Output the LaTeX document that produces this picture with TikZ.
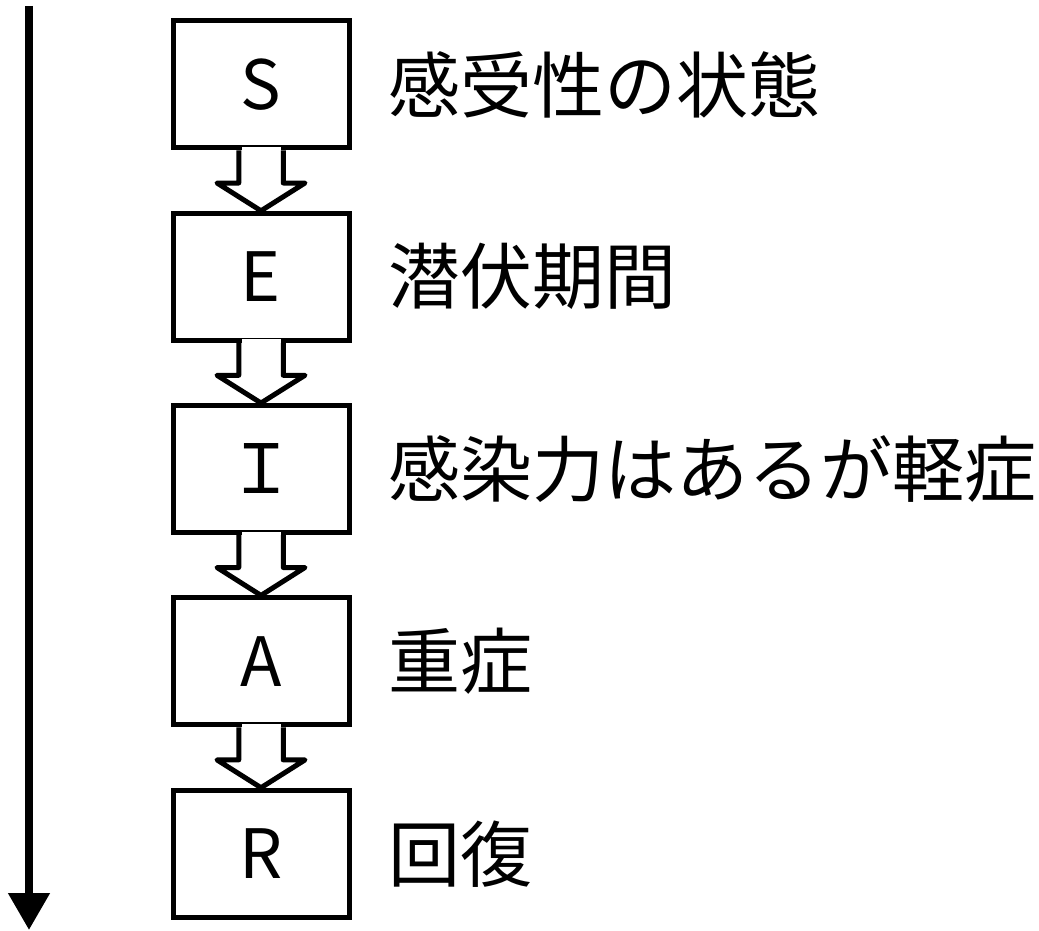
\documentclass[tikz,border=0pt]{standalone}
\usepackage{fontspec}
\newfontfamily\jp{Noto Sans CJK JP}
\usetikzlibrary{calc,arrows.meta}
\begin{document}
\begin{tikzpicture}[x=1pt,y=-1pt,
  box/.style={draw,line width=5pt,minimum width=176pt,minimum height=127pt,inner sep=0pt,
    font=\jp\fontsize{68}{80}\selectfont},
  lbl/.style={anchor=west,inner sep=0pt,font=\jp\fontsize{72}{86}\selectfont},
  blockarrow/.style={line width=5pt,line join=round},
  timeline/.style={line width=8pt,-{Triangle[length=37pt,width=40pt]}}]
\useasboundingbox (0,0) rectangle (1039,931);
% time axis
\coordinate (top) at (29,6);
\coordinate (bot) at (29,930);
\draw[timeline] (top) -- (bot);
% boxes
\node[box] (S) at (261,84.5)  {S};
\node[box] (E) at (261,276.8) {E};
\node[box] (I) at (261,469)   {Ｉ};
\node[box] (A) at (261,661.4) {A};
\node[box] (R) at (261,853.7) {R};
% labels
\node[lbl] (tS) at ($(S.east)+(37,0)$) {感受性の状態};
\node[lbl] (tE) at ($(E.east)+(37,0)$) {潜伏期間};
\node[lbl] (tI) at ($(I.east)+(37,0)$) {感染力はあるが軽症};
\node[lbl] (tA) at ($(A.east)+(37,0)$) {重症};
\node[lbl] (tR) at ($(R.east)+(37,0)$) {回復};
% block arrows
\foreach \a/\b in {S/E,E/I,I/A,A/R}{
  \fill[white] ($(\a.south)+(-19.5,-3.5)$) rectangle ($(\a.south)+(19.5,3.5)$);
  \draw[blockarrow] ($(\a.south)+(-22.25,0)$) -- ++(0,32.5) -- ++(-21.75,0)
     -- (\b.north) -- ($(\a.south)+(44,32.5)$) -- ++(-21.75,0) -- ++(0,-32.5);
}
\end{tikzpicture}
\end{document}
